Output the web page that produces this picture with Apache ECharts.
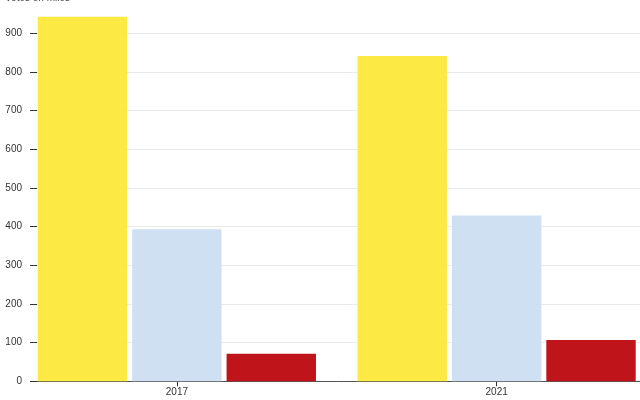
<!DOCTYPE html>
<html>
<head>
<meta charset="utf-8">
<script src="https://cdn.jsdelivr.net/npm/echarts@6/dist/echarts.min.js"></script>
<style>
  html, body { margin: 0; padding: 0; background: #fff; }
  #chart { width: 640px; height: 400px; }
</style>
</head>
<body>
<div id="chart"></div>
<script>
// data
const years = ['2017', '2021']
const yellowVotes = [943, 841]
const blueVotes = [393, 429]
const redVotes = [71, 107]
const yMax = 1000 // the 1000 line falls just above the visible area

const chart = echarts.init(document.getElementById('chart'))

const textStyle = { fontFamily: 'Liberation Sans, Arial, sans-serif', fontSize: 10, color: '#333' }

const option = {
  animation: false,
  title: {
    text: 'Votes en miles',
    left: 0,
    top: -12,
    textStyle: { fontFamily: textStyle.fontFamily, fontSize: 10, fontWeight: 'normal', color: '#444' }
  },
  grid: [
    // bars: band centres sit at 177 and 496 (grid runs past the right edge)
    { left: 17, width: 639.5, top: -5.4, bottom: 18.7, outerBoundsMode: 'none', containLabel: false },
    // axes, gridlines
    { left: 37, right: 0, top: -5.4, bottom: 18.7, outerBoundsMode: 'none', containLabel: false }
  ],
  xAxis: [
    {
      type: 'category',
      gridIndex: 0,
      data: years,
      axisLine: { show: false },
      axisTick: { show: true, alignWithLabel: true, length: 5, lineStyle: { color: '#333' } },
      axisLabel: { ...textStyle, margin: 6 },
      splitLine: { show: false }
    },
    {
      type: 'category',
      gridIndex: 1,
      data: years,
      axisLine: { show: true, lineStyle: { color: '#555', width: 1 } },
      axisTick: { show: false },
      axisLabel: { show: false },
      splitLine: { show: false }
    }
  ],
  yAxis: [
    {
      type: 'value',
      gridIndex: 0,
      min: 0,
      max: yMax,
      show: false,
      splitLine: { show: false }
    },
    {
      type: 'value',
      gridIndex: 1,
      min: 0,
      max: yMax,
      interval: 100,
      axisLine: { show: false },
      axisTick: { show: true, length: 7, lineStyle: { color: '#333', width: 1 } },
      axisLabel: { ...textStyle, margin: 15, showMaxLabel: false },
      splitLine: { show: true, lineStyle: { color: '#eaeaea' } }
    }
  ],
  series: [
    {
      name: 'A',
      type: 'bar',
      xAxisIndex: 0,
      yAxisIndex: 0,
      data: yellowVotes,
      barGap: '5.6%',
      barCategoryGap: '13%',
      itemStyle: { color: '#fce943' }
    },
    {
      name: 'B',
      type: 'bar',
      xAxisIndex: 0,
      yAxisIndex: 0,
      data: blueVotes,
      itemStyle: { color: '#cfe0f3' }
    },
    {
      name: 'C',
      type: 'bar',
      xAxisIndex: 0,
      yAxisIndex: 0,
      data: redVotes,
      itemStyle: { color: '#be141a' }
    }
  ]
}

chart.setOption(option)
</script>
</body>
</html>
